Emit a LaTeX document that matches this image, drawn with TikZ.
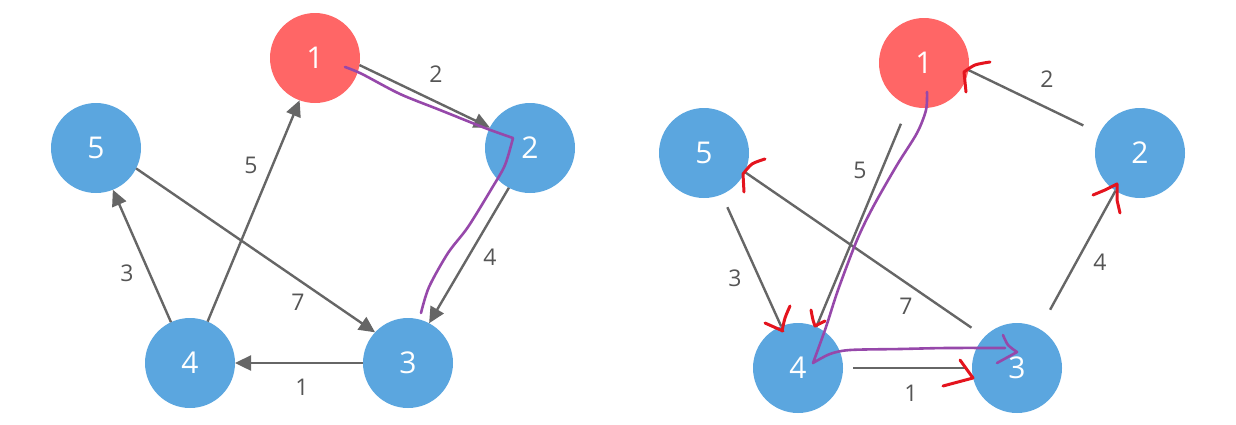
\documentclass[tikz,border=0pt]{standalone}
\usepackage{fontspec}
\setmainfont{Open Sans}
\usetikzlibrary{arrows.meta}
\definecolor{nodered}{RGB}{255,102,102}
\definecolor{nodeblue}{RGB}{91,166,223}
\definecolor{edgegray}{RGB}{102,102,102}
\definecolor{labelgray}{RGB}{85,85,85}
\definecolor{penpurple}{RGB}{150,72,170}
\definecolor{penred}{RGB}{228,20,30}
\begin{document}
\begin{tikzpicture}[x=1pt, y=-1pt, line width=2.4pt,
  main node/.style={circle,fill=nodeblue,minimum size=90pt,inner sep=0pt,outer sep=0pt,text=white,font=\fontsize{30}{36}\selectfont},
  root node/.style={main node,fill=nodered},
  weight/.style={inner sep=0pt,text=labelgray,font=\fontsize{23}{28}\selectfont},
  purple pen/.style={draw=penpurple,line width=2.6pt,line cap=round,line join=round},
  red pen/.style={draw=penred,line width=3pt,line cap=round,line join=round}]
\useasboundingbox (0,0) rectangle (1236,424);
% left graph
\node[root node] (l1) at (315,58) {1};
\node[main node] (l2) at (530,148) {2};
\node[main node] (l3) at (408,363) {3};
\node[main node] (l4) at (190,363) {4};
\node[main node] (l5) at (96,148) {5};
\begin{scope}[every edge/.style={draw=edgegray,line width=2.4pt,-{Triangle[length=16pt,width=15pt]}}]
\draw (l1.-9) edge (l2.153);
\draw (l2.-118) edge (l3.62);
\draw (l3.180) edge (l4.0);
\draw (l4.115) edge (l5.-68);
\draw (l4.67) edge (l1.-110);
\draw (l5.-27) edge (l3.137);
\end{scope}
\begin{scope}[every node/.style={weight}]
\node (w12) at (436,74) {2};
\node (w23) at (490,257) {4};
\node (w34) at (302,387) {1};
\node (w45) at (127,273) {3};
\node (w41) at (251,165) {5};
\node (w53) at (298,302) {7};
\end{scope}
\draw[purple pen] plot[smooth] coordinates {(345,67) (362,74) (400,94) (440,110) (485,128) (513,138)}
  -- plot[smooth] coordinates {(513,138) (505,165) (492,188) (468,227) (448,253) (429,287) (421,313)};
% right graph
\node[root node] (r1) at (924,63) {1};
\node[main node] (r2) at (1140,153) {2};
\node[main node] (r3) at (1017,368) {3};
\node[main node] (r4) at (798,368) {4};
\node[main node] (r5) at (704,153) {5};
\begin{scope}[every edge/.style={draw=edgegray,line width=2.4pt}]
\draw (r2.154) edge[shorten <=18pt] (r1.-9);
\draw (r1.-110) edge[shorten <=20pt] (r4.66);
\draw (r5.-67) edge[shorten <=14pt] (r4.112);
\draw (r3.136) edge[shorten <=16pt] (r5.-25);
\draw (r3.60) edge[shorten <=22pt] (r2.-123);
\draw (r4.0) edge[shorten <=10pt,shorten >=7pt] (r3.180);
\end{scope}
\begin{scope}[every node/.style={weight}]
\node (v21) at (1047,79) {2};
\node (v14) at (860,170) {5};
\node (v54) at (735,278) {3};
\node (v35) at (906,306) {7};
\node (v32) at (1100,262) {4};
\node (v43) at (911,393) {1};
\end{scope}
\draw[red pen] plot[smooth] coordinates {(990,62) (975,65) (964,72)} -- (966,92);
\draw[red pen] plot[smooth] coordinates {(765,159) (752,164) (743,174)} -- (744,192);
\draw[red pen] (1093,195) -- (1105,190) -- (1117,184) -- (1117,200) -- (1120,213);
\draw[red pen] (765,323) -- (783,331);
\draw[red pen] plot[smooth] coordinates {(790,306) (785,318) (782,331)};
\draw[red pen] plot[smooth] coordinates {(811,310) (813,320) (815,326)} -- (825,321);
\draw[red pen] (960,360) -- (973,378) -- (943,386);
\draw[purple pen] plot[smooth] coordinates {(927,92) (926,110) (917,133) (897,165) (873,207) (857,240) (838,290) (826,327) (813,363)}
  -- plot[smooth] coordinates {(813,363) (830,354) (850,350) (900,349) (947,348) (1005,348)};
\draw[purple pen] plot[smooth] coordinates {(1003,335) (1008,345) (1017,352)} -- (997,363);
\end{tikzpicture}
\end{document}
